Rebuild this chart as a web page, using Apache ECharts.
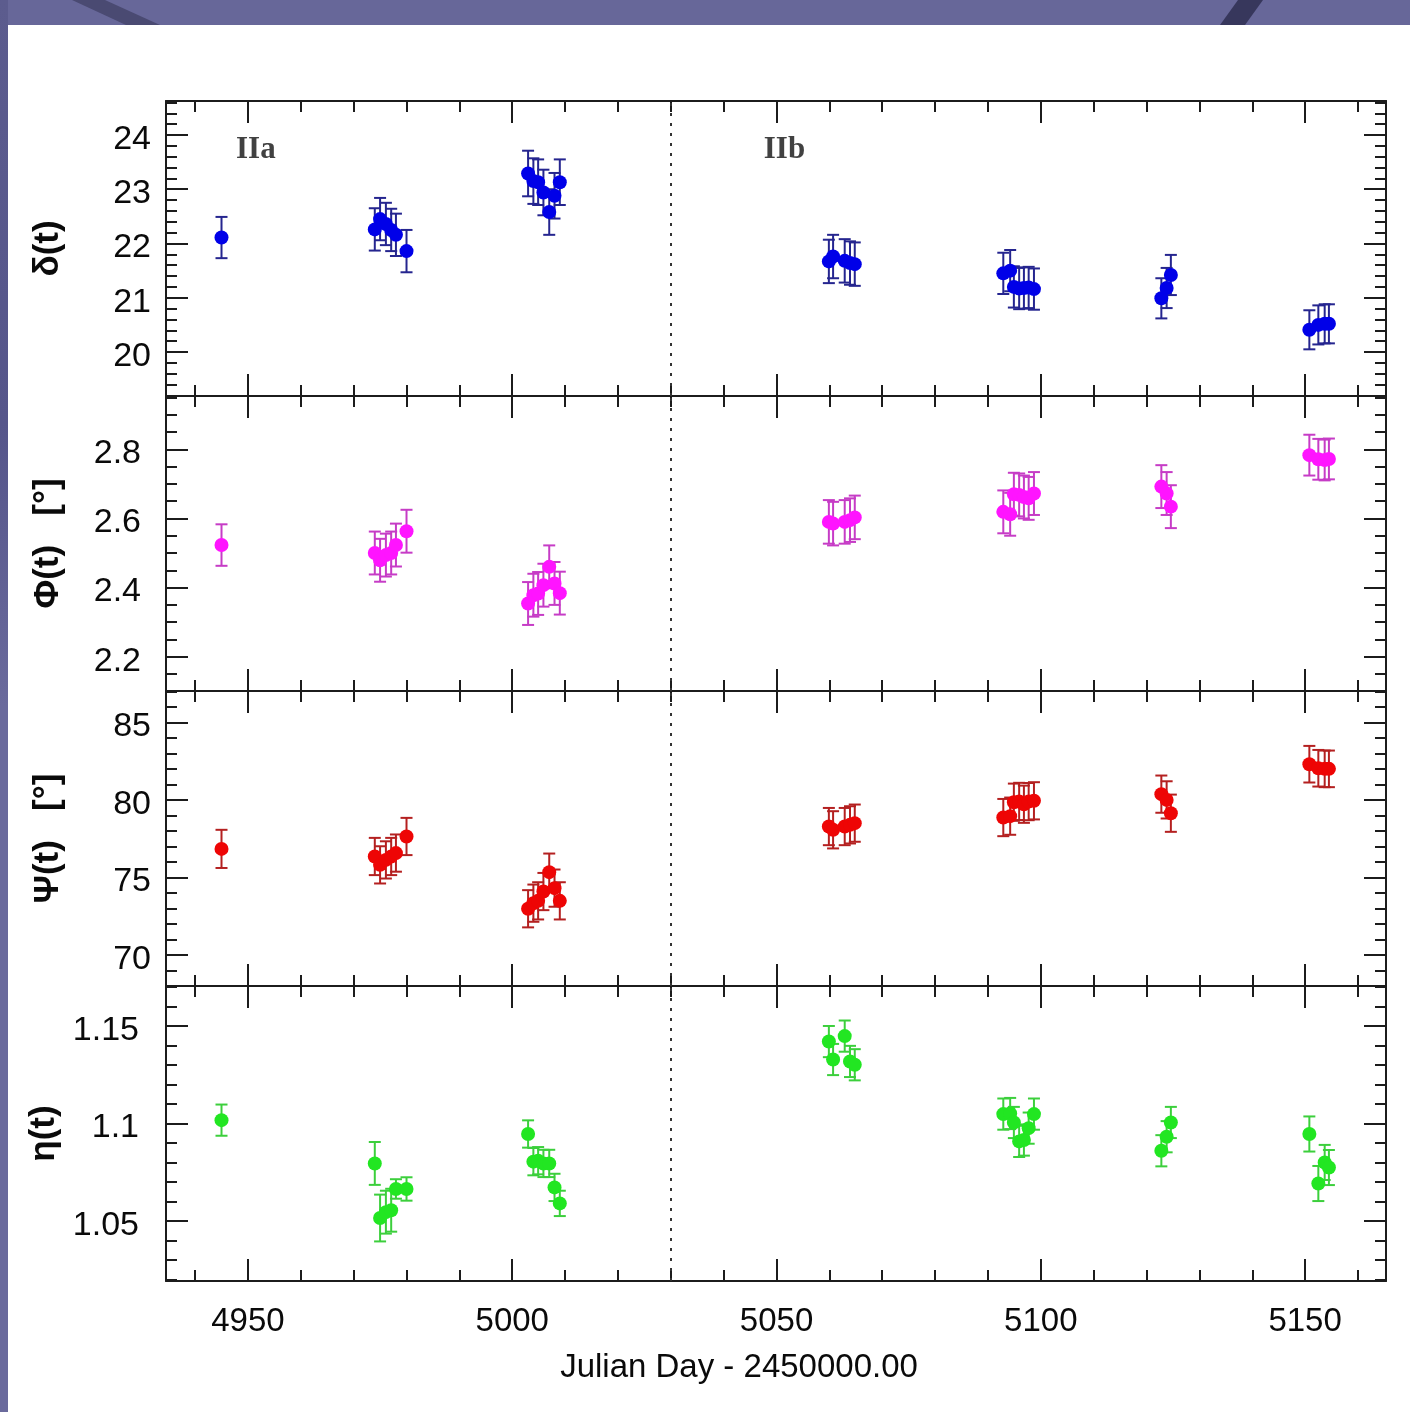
<!DOCTYPE html>
<html><head><meta charset="utf-8">
<script src="https://cdn.jsdelivr.net/npm/echarts@6/dist/echarts.min.js"></script>
<style>html,body{margin:0;padding:0;background:#fff}#c{width:1410px;height:1412px}</style>
</head><body><div id="c"></div>
<script>
// ---------- data (Julian Day - 2450000) ----------
const days = [4945.0,
  4974.0, 4975.0, 4976.1, 4977.1, 4978.0, 4980.0,
  5003.0, 5004.0, 5004.9, 5005.9, 5007.0, 5008.0, 5009.0,
  5059.9, 5060.7, 5062.9, 5063.9, 5064.8,
  5092.9, 5094.2, 5094.9, 5095.9, 5096.8, 5097.7, 5098.7,
  5122.8, 5123.8, 5124.6,
  5150.8, 5152.5, 5153.7, 5154.5];

const delta = [22.11,
  22.26, 22.45, 22.36, 22.25, 22.16, 21.86,
  23.29, 23.15, 23.13, 22.94, 22.58, 22.88, 23.13,
  21.67, 21.76, 21.68, 21.64, 21.62,
  21.45, 21.50, 21.20, 21.17, 21.18, 21.19, 21.16,
  20.99, 21.18, 21.42,
  20.41, 20.50, 20.52, 20.52];
const deltaErr = [0.38,
  0.39, 0.39, 0.39, 0.39, 0.39, 0.39,
  0.42, 0.42, 0.42, 0.42, 0.42, 0.42, 0.42,
  0.40, 0.40, 0.40, 0.40, 0.40,
  0.38, 0.38, 0.38, 0.38, 0.38, 0.38, 0.38,
  0.37, 0.37, 0.37,
  0.36, 0.36, 0.36, 0.36];

const phi = [2.523,
  2.500, 2.479, 2.494, 2.500, 2.523, 2.563,
  2.354, 2.378, 2.383, 2.407, 2.460, 2.412, 2.384,
  2.590, 2.585, 2.590, 2.595, 2.603,
  2.619, 2.612, 2.670, 2.668, 2.662, 2.658, 2.672,
  2.692, 2.672, 2.634,
  2.783, 2.771, 2.769, 2.772];
const phiErr = [0.060,
  0.062, 0.062, 0.062, 0.062, 0.062, 0.062,
  0.062, 0.062, 0.062, 0.062, 0.062, 0.062, 0.062,
  0.063, 0.063, 0.063, 0.063, 0.063,
  0.062, 0.062, 0.062, 0.062, 0.062, 0.062, 0.062,
  0.062, 0.062, 0.062,
  0.059, 0.059, 0.059, 0.059];

const psi = [76.84,
  76.35, 75.81, 76.13, 76.35, 76.57, 77.64,
  72.98, 73.34, 73.49, 74.09, 75.34, 74.31, 73.49,
  78.28, 78.07, 78.28, 78.39, 78.50,
  78.86, 78.95, 79.85, 79.90, 79.72, 79.89, 79.94,
  80.37, 80.00, 79.14,
  82.30, 82.04, 82.00, 82.00];
const psiErr = [1.23,
  1.2, 1.2, 1.2, 1.2, 1.2, 1.2,
  1.2, 1.2, 1.2, 1.2, 1.2, 1.2, 1.2,
  1.2, 1.2, 1.2, 1.2, 1.2,
  1.2, 1.2, 1.2, 1.2, 1.2, 1.2, 1.2,
  1.2, 1.2, 1.2,
  1.18, 1.18, 1.18, 1.18];

const eta = [1.1017,
  1.0795, 1.0515, 1.0545, 1.0555, 1.0664, 1.0664,
  1.0946, 1.0804, 1.0809, 1.0795, 1.0795, 1.0672, 1.0590,
  1.1420, 1.1328, 1.1448, 1.1318, 1.1301,
  1.1048, 1.1051, 1.1005, 1.0908, 1.0915, 1.0976, 1.1048,
  1.0860, 1.0932, 1.1005,
  1.0946, 1.0692, 1.0800, 1.0774];
const etaErr = [0.008,
  0.011, 0.012, 0.011, 0.011, 0.005, 0.006,
  0.007, 0.007, 0.007, 0.007, 0.007, 0.007, 0.0065,
  0.008, 0.008, 0.008, 0.008, 0.008,
  0.008, 0.008, 0.008, 0.008, 0.008, 0.008, 0.008,
  0.008, 0.008, 0.008,
  0.009, 0.009, 0.009, 0.009];

// tick labels
const xTickLabels = ['4950', '5000', '5050', '5100', '5150'];
const deltaTicks = ['20', '21', '22', '23', '24'];
const phiTicks = ['2.2', '2.4', '2.6', '2.8'];
const psiTicks = ['70', '75', '80', '85'];
const etaTicks = ['1.05', '1.1', '1.15'];

const phaseNames = ['IIa', 'IIb'];
const phaseDays = [4951.5, 5051.5];
const phaseLevel = 23.72;      // δ(t) units
const dividerDay = 5030;

// ---------- layout / style ----------
const X_MIN = 4934.5, X_MAX = 5165.3;
const panels = [
  {name: 'δ(t)', v: delta, e: deltaErr, min: 19.19, max: 24.626, step: 1, minor: 5, ticks: deltaTicks, lm: 15, color: '#0000e8', bar: '#25258f'},
  {name: 'Φ(t)   [°]', v: phi, e: phiErr, min: 2.101, max: 2.954, step: 0.2, minor: 4, ticks: phiTicks, lm: 25, color: '#ff14ff', bar: '#c63cc6'},
  {name: 'Ψ(t)   [°]', v: psi, e: psiErr, min: 68.0, max: 87.02, step: 5, minor: 5, ticks: psiTicks, lm: 15, color: '#ee0505', bar: '#b42020'},
  {name: 'η(t)', v: eta, e: etaErr, min: 1.0192, max: 1.1705, step: 0.05, minor: 5, ticks: etaTicks, lm: 27, color: '#22e622', bar: '#3ccf3c'}
];
const TOPS = [101, 396, 691, 986], H = 295;
const INK = '#1c1c1c';
const FONT = 'Liberation Sans';

function labelFor(list, rich) {
  return function (v) {
    for (const s of list) if (Math.abs(parseFloat(s) - v) < 1e-6) return rich ? '{t|' + s + '}' : s;
    return '';
  };
}

const grid = [], xAxis = [], yAxis = [], series = [];
panels.forEach((p, i) => {
  grid.push({left: 166, right: 24, top: TOPS[i], height: H, containLabel: false});
  const common = {
    gridIndex: i, type: 'value', scale: true,
    axisLine: {show: true, onZero: false, lineStyle: {color: INK, width: 2}},
    axisTick: {show: true, inside: true, length: 22, lineStyle: {color: INK, width: 2}},
    minorTick: {show: true, length: 11, lineStyle: {color: INK, width: 2}},
    splitLine: {show: false}, minorSplitLine: {show: false}
  };
  const xc = Object.assign({}, common, {min: X_MIN, max: X_MAX, minInterval: 50, maxInterval: 50,
    minorTick: Object.assign({}, common.minorTick, {splitNumber: 5})});
  xAxis.push(Object.assign({}, xc, {
    position: 'bottom',
    axisLabel: {show: i === 3, showMinLabel: false, showMaxLabel: false, formatter: labelFor(xTickLabels, false),
      fontFamily: FONT, fontSize: 33, color: '#0a0a0a', margin: 24},
    name: i === 3 ? 'Julian Day - 2450000.00' : '',
    nameLocation: 'middle', nameGap: 70,
    nameTextStyle: {fontFamily: FONT, fontSize: 33, color: '#0a0a0a', padding: [0, 74, 0, 0]}
  }));
  xAxis.push(Object.assign({}, xc, {position: 'top', axisLabel: {show: false}}));
  const yc = Object.assign({}, common, {min: p.min, max: p.max, minInterval: p.step, maxInterval: p.step,
    minorTick: Object.assign({}, common.minorTick, {splitNumber: p.minor})});
  yAxis.push(Object.assign({}, yc, {
    position: 'left',
    axisLabel: {show: true, showMinLabel: false, showMaxLabel: false, formatter: labelFor(p.ticks, true),
      fontFamily: FONT, fontSize: 34, color: '#0a0a0a', margin: p.lm,
      rich: {t: {fontFamily: FONT, fontSize: 34, color: '#0a0a0a', padding: [9, 0, 0, 0]}}},
    name: p.name, nameLocation: 'middle', nameGap: 100, nameRotate: 90,
    nameTextStyle: {fontFamily: FONT, fontSize: 35, fontWeight: 'bold', color: '#0a0a0a'}
  }));
  yAxis.push(Object.assign({}, yc, {position: 'right', axisLabel: {show: false}}));

  const errData = days.map((d, k) => [d, p.v[k] - p.e[k], p.v[k] + p.e[k]]);
  series.push({
    type: 'custom', xAxisIndex: 2 * i, yAxisIndex: 2 * i, z: 3,
    encode: {x: 0, y: [1, 2]}, data: errData, silent: true,
    renderItem: (params, api) => {
      const x = api.value(0);
      const a = api.coord([x, api.value(2)]);
      const b = api.coord([x, api.value(1)]);
      const w = 6, st = {stroke: p.bar, lineWidth: 2};
      return {type: 'group', children: [
        {type: 'line', shape: {x1: a[0], y1: a[1], x2: b[0], y2: b[1]}, style: st},
        {type: 'line', shape: {x1: a[0] - w, y1: a[1], x2: a[0] + w, y2: a[1]}, style: st},
        {type: 'line', shape: {x1: b[0] - w, y1: b[1], x2: b[0] + w, y2: b[1]}, style: st}
      ]};
    }
  });
  series.push({
    type: 'scatter', xAxisIndex: 2 * i, yAxisIndex: 2 * i, z: 4,
    symbol: 'circle', symbolSize: 14, itemStyle: {color: p.color, opacity: 1},
    data: days.map((d, k) => [d, p.v[k]]), silent: true,
    markLine: {silent: true, symbol: ['none', 'none'], label: {show: false},
      lineStyle: {color: '#333', width: 2, type: [3, 7]},
      data: [{xAxis: dividerDay}]}
  });
});

// phase labels in top panel
series.push({
  type: 'scatter', xAxisIndex: 0, yAxisIndex: 0, symbolSize: 0, z: 5, silent: true,
  data: phaseDays.map((d, k) => [d, phaseLevel, phaseNames[k]]),
  label: {show: true, position: 'inside', formatter: q => q.data[2],
    fontFamily: 'Liberation Serif', fontSize: 31, fontWeight: 'bold', color: '#111'}
});

const chart = echarts.init(document.getElementById('c'), null, {renderer: 'canvas'});
chart.setOption({
  backgroundColor: '#ffffff',
  animation: false,
  graphic: [
    {type: 'rect', shape: {x: 0, y: 0, width: 1410, height: 25}, style: {fill: '#676799'}},
    {type: 'rect', shape: {x: 0, y: 0, width: 8, height: 1412},
      style: {fill: new echarts.graphic.LinearGradient(0, 0, 0, 1, [
        {offset: 0, color: '#5c5c8e'}, {offset: 0.3, color: '#55558a'}, {offset: 0.5, color: '#6a6a9c'}, {offset: 1, color: '#6a6a9c'}])}},
    {type: 'polygon', shape: {points: [[72, 0], [105, 0], [160, 25], [126, 25]]}, style: {fill: '#4a4a72'}},
    {type: 'polygon', shape: {points: [[1238, 0], [1263, 0], [1245, 25], [1220, 25]]}, style: {fill: '#37375c'}}
  ],
  grid, xAxis, yAxis, series
});
</script>
</body></html>
